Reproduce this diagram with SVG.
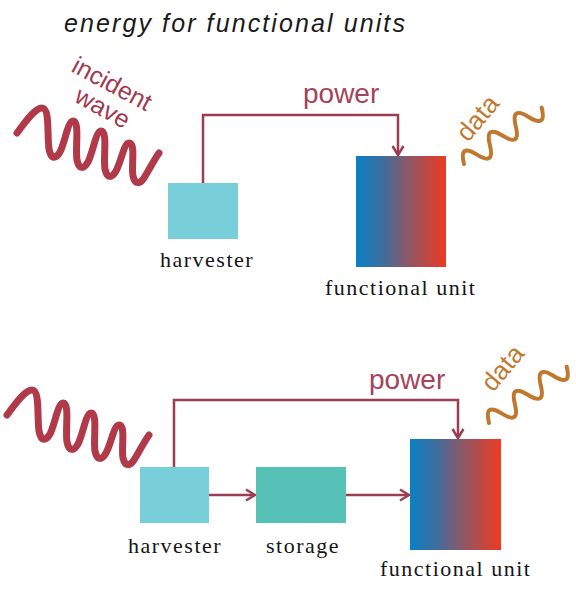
<svg xmlns="http://www.w3.org/2000/svg" width="576" height="591" viewBox="0 0 576 591">
  <style>
    .title { font-family: "Liberation Sans", Arial, sans-serif; font-style: italic; font-size: 25px; letter-spacing: 2.1px; fill: #1a1a1a; }
    .label { font-family: "Liberation Serif", "Times New Roman", serif; font-size: 22px; letter-spacing: 1.5px; fill: #151515; }
    .power { font-family: "Liberation Sans", Arial, sans-serif; font-size: 28px; fill: #a5435a; }
    .inc { font-family: "Liberation Sans", Arial, sans-serif; font-size: 25px; fill: #a3384e; }
    .datat { font-family: "Liberation Sans", Arial, sans-serif; font-size: 26px; fill: #c07a30; }
    .wire { fill: none; stroke: #9c3d52; stroke-width: 2.5; }
    .wave { fill: none; stroke: #b03a4a; stroke-width: 7; stroke-linecap: round; stroke-linejoin: round; }
    .dwave { fill: none; stroke: #c0782e; stroke-width: 4; stroke-linecap: round; }
    .harv { fill: #79cfd9; }
    .stor { fill: #56c2b7; }
  </style>
  <defs>
    <linearGradient id="fuGrad" x1="0" y1="0" x2="1" y2="0">
      <stop offset="0" stop-color="#0a80c4"/>
      <stop offset="0.3" stop-color="#3f6d9c"/>
      <stop offset="0.55" stop-color="#86596b"/>
      <stop offset="1" stop-color="#ef3a21"/>
    </linearGradient>
    <marker id="arr" markerUnits="userSpaceOnUse" markerWidth="14" markerHeight="14" viewBox="0 0 14 14" refX="11" refY="7" orient="auto">
      <path d="M2,1.5 L11,7 L2,12.5" fill="none" stroke="#9c3d52" stroke-width="2.5" stroke-linejoin="miter"/>
    </marker>
    <path id="incWave" d="M7,415 C15,404 25,390 32,390 C40,390 37,418 39,431 C41,442 46,441 50,434 C55,424 58,403 63,403 C70,403 65,430 67,442 C69,452 74,451 78,444 C83,434 86,413 91,413 C98,413 93,440 95,451 C97,461 102,460 106,453 C111,444 114,425 119,425 C126,425 121,449 123,458 C125,467 130,466 134,460 C139,452 144,442 149,435"/>
    <path id="dataWave" d="M0,0 Q8,-20 16,0 T32,0 T48,0 T64,0 T80,0 T96,0"/>
  </defs>

  <text class="title" x="64" y="32">energy for functional units</text>

  <g id="connectors">
    <path class="wire" d="M203,183 V115 H398 V155" marker-end="url(#arr)"/>
    <path class="wire" d="M174,467 V400 H458 V438" marker-end="url(#arr)"/>
    <path class="wire" d="M209,495 H255" marker-end="url(#arr)"/>
    <path class="wire" d="M346,495 H409" marker-end="url(#arr)"/>
  </g>

  <g id="incident-wave-top">
    <use href="#incWave" class="wave" transform="translate(10,-282)"/>
    <text class="inc" transform="translate(70,71) rotate(28)">incident</text>
    <text class="inc" transform="translate(73,101) rotate(29)">wave</text>
  </g>

  <g id="data-top">
    <use href="#dataWave" class="dwave" transform="translate(464,164) rotate(-36)"/>
    <text class="datat" transform="translate(468,143) rotate(-50)">data</text>
  </g>

  <g id="power-label-top">
    <text class="power" x="303" y="103">power</text>
  </g>

  <g id="harvester-top">
    <rect class="harv" x="168" y="183" width="70" height="56"/>
    <text class="label" x="160" y="267">harvester</text>
  </g>

  <g id="functional-unit-top">
    <rect x="356" y="156" width="90" height="111" fill="url(#fuGrad)"/>
    <text class="label" x="325" y="295">functional unit</text>
  </g>

  <g id="incident-wave-bottom">
    <use href="#incWave" class="wave"/>
  </g>

  <g id="data-bottom">
    <use href="#dataWave" class="dwave" transform="translate(489,423) rotate(-36)"/>
    <text class="datat" transform="translate(493,393) rotate(-50)">data</text>
  </g>

  <g id="power-label-bottom">
    <text class="power" x="369" y="389">power</text>
  </g>

  <g id="harvester-bottom">
    <rect class="harv" x="140" y="467" width="69" height="56"/>
    <text class="label" x="128" y="553">harvester</text>
  </g>

  <g id="storage">
    <rect class="stor" x="256" y="467" width="90" height="56"/>
    <text class="label" x="266" y="553">storage</text>
  </g>

  <g id="functional-unit-bottom">
    <rect x="410" y="439" width="91" height="111" fill="url(#fuGrad)"/>
    <text class="label" x="380" y="576">functional unit</text>
  </g>
</svg>
